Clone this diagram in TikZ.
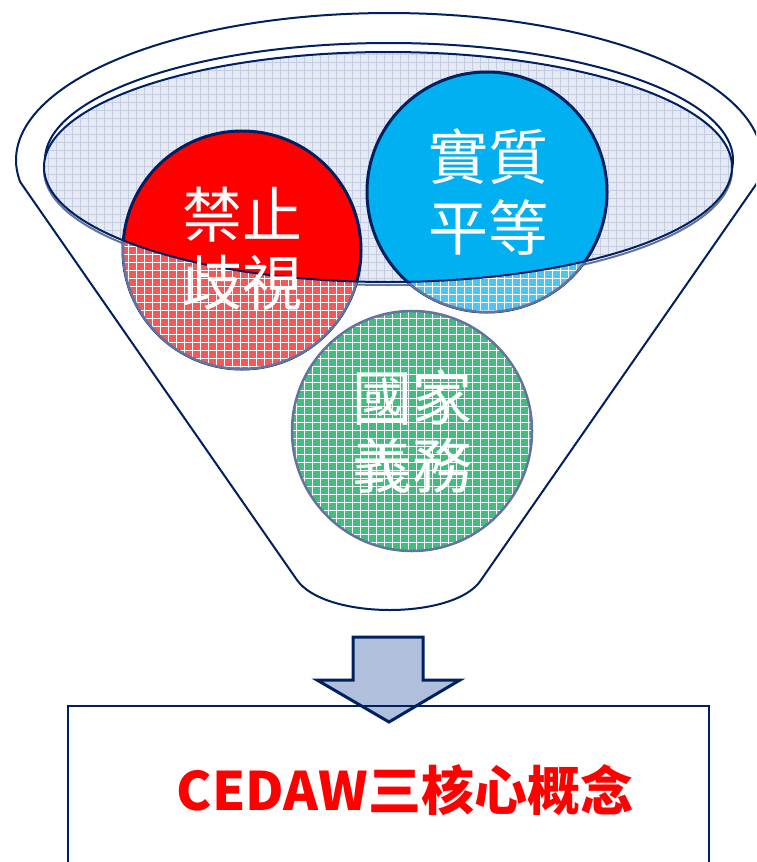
\documentclass[tikz,border=0pt]{standalone}
\usepackage{fontspec}
\newfontfamily\cjk{Noto Sans CJK TC}
\usetikzlibrary{patterns.meta}
\definecolor{navy}{HTML}{002060}
\definecolor{rimfill}{HTML}{E4E9F3}
\definecolor{rimgrid}{HTML}{C4CCE2}
\definecolor{redA}{HTML}{FF0000}
\definecolor{redB}{HTML}{F45858}
\definecolor{blueA}{HTML}{00B0F0}
\definecolor{blueB}{HTML}{4CC4F4}
\definecolor{greenB}{HTML}{40BE7E}
\definecolor{softedge}{HTML}{6373A0}
\definecolor{arrowfill}{HTML}{B0C0DC}
\tikzset{
  outline/.style={draw=navy, line width=2pt},
  solidball/.style={draw=navy, line width=3pt},
  softball/.style={draw=softedge, line width=2.5pt},
  gridwhite/.style={pattern={Hatch[angle=0,distance=8pt,line width=0.5pt]}, pattern color=white, fill opacity=0.7},
  gridrim/.style={pattern={Hatch[angle=0,distance=8pt,line width=0.5pt]}, pattern color=rimgrid},
  balltext/.style={text=white, inner sep=0pt, font=\cjk\fontsize{60}{68}\selectfont},
}
\begin{document}
\begin{tikzpicture}[x=1pt,y=-1pt]
\clip (0,0) rectangle (756,862);
\fill[white] (0,0) rectangle (756,862);
% outer funnel
\draw[outline, fill=white, line join=round] plot[domain=171.4:368.6, samples=120] ({389+373*cos(\x)},{160+147*sin(\x)})
  -- (481,580) .. controls (455,620) and (325,620) .. (297,580) -- cycle;
% rim outline ellipse
\draw[outline] (389,160) ellipse [x radius=344, y radius=117];
% shadow of surface
\draw[softedge, line width=2pt] (388,170) ellipse [x radius=344, y radius=115];
% surface ellipse
\fill[rimfill] (388,167) ellipse [x radius=344, y radius=115];
\fill[gridrim] (388,167) ellipse [x radius=344, y radius=115];
% solid balls
\fill[redA] (242,250) circle [radius=119];
\draw[solidball] (242,250) circle [radius=119];
\fill[blueA] (487,192) circle [radius=120];
\draw[solidball] (487,192) circle [radius=120];
% part inside the funnel body
\begin{scope}
  \clip (0,167) -- plot[domain=180:0, samples=120] ({388+344*cos(\x)},{167+115*sin(\x)}) -- (756,167) -- (756,862) -- (0,862) -- cycle;
  \fill[redB] (242,250) circle [radius=119];
  \fill[gridwhite] (242,250) circle [radius=119];
  \draw[softball] (242,250) circle [radius=119];
  \fill[blueB] (487,192) circle [radius=120];
  \fill[gridwhite] (487,192) circle [radius=120];
  \draw[softball] (487,192) circle [radius=120];
\end{scope}
\fill[greenB] (412,431) circle [radius=120];
\fill[gridwhite] (412,431) circle [radius=120];
\draw[softball] (412,431) circle [radius=120];
% surface edge over balls
\draw[outline] (388,167) ellipse [x radius=344, y radius=115];
% texts
\node[balltext] (t1) at (242,215) {禁止};
\node[balltext] (t2) at (242,283) {歧視};
\node[balltext] (t3) at (488,157) {實質};
\node[balltext] (t4) at (488,227) {平等};
\node[balltext] (t5) at (412,398) {國家};
\node[balltext] (t6) at (412,466) {義務};
% arrow
\draw[draw=navy, line width=3pt, fill=arrowfill, line join=miter]
  (353,637) -- (423,637) -- (423,680) -- (460,680) -- (389,722) -- (317,680) -- (353,680) -- cycle;
% box
\draw[navy, line width=1.5pt] (68,880) -- (68,706) -- (709,706) -- (709,880);
\node[text=redA, inner sep=0pt, font=\cjk\bfseries\fontsize{53}{60}\selectfont] (title) at (405,790) {CEDAW三核心概念};
\end{tikzpicture}
\end{document}
